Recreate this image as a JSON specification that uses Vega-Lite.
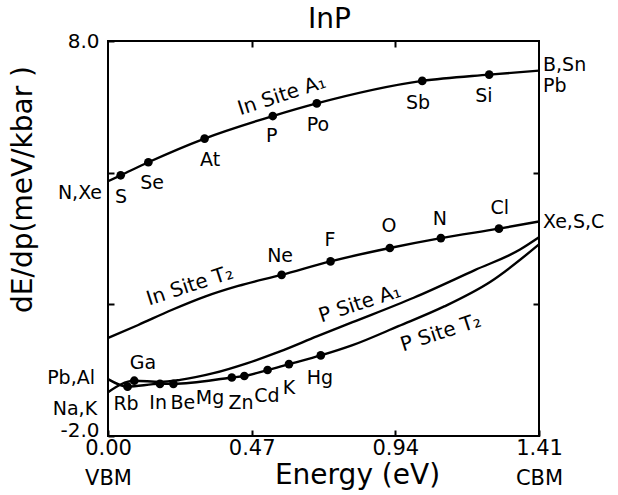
{
  "$schema": "https://vega.github.io/schema/vega-lite/v6.json",
  "width": 431,
  "height": 395,
  "autosize": {"type": "none"},
  "padding": {"left": 108, "top": 41, "right": 79, "bottom": 59},
  "background": "white",
  "config": {
    "view": {"stroke": "black", "strokeWidth": 2},
    "font": "DejaVu Sans",
    "text": {"font": "DejaVu Sans", "color": "black"}
  },
  "title": {"text": "InP", "fontSize": 28, "font": "DejaVu Sans", "fontWeight": "normal", "color": "black", "offset": 8, "anchor": "middle", "dx": 6, "dy": 11},
  "datasets": {
    "curves": [
      {"curve": "In Site A1", "e": 0.0, "v": 4.45, "name": ""},
      {"curve": "In Site A1", "e": 0.0415, "v": 4.60, "name": "S"},
      {"curve": "In Site A1", "e": 0.132, "v": 4.93, "name": "Se"},
      {"curve": "In Site A1", "e": 0.316, "v": 5.53, "name": "At"},
      {"curve": "In Site A1", "e": 0.539, "v": 6.10, "name": "P"},
      {"curve": "In Site A1", "e": 0.683, "v": 6.42, "name": "Po"},
      {"curve": "In Site A1", "e": 1.028, "v": 6.99, "name": "Sb"},
      {"curve": "In Site A1", "e": 1.247, "v": 7.15, "name": "Si"},
      {"curve": "In Site A1", "e": 1.41, "v": 7.25, "name": ""},
      {"curve": "In Site T2", "e": 0.0, "v": 0.48, "name": ""},
      {"curve": "In Site T2", "e": 0.099, "v": 0.81, "name": ""},
      {"curve": "In Site T2", "e": 0.208, "v": 1.19, "name": ""},
      {"curve": "In Site T2", "e": 0.317, "v": 1.53, "name": ""},
      {"curve": "In Site T2", "e": 0.426, "v": 1.80, "name": ""},
      {"curve": "In Site T2", "e": 0.568, "v": 2.08, "name": "Ne"},
      {"curve": "In Site T2", "e": 0.728, "v": 2.42, "name": "F"},
      {"curve": "In Site T2", "e": 0.922, "v": 2.76, "name": "O"},
      {"curve": "In Site T2", "e": 1.089, "v": 3.01, "name": "N"},
      {"curve": "In Site T2", "e": 1.279, "v": 3.25, "name": "Cl"},
      {"curve": "In Site T2", "e": 1.41, "v": 3.43, "name": ""},
      {"curve": "P Site A1", "e": 0.0, "v": -0.89, "name": ""},
      {"curve": "P Site A1", "e": 0.086, "v": -0.60, "name": "Ga"},
      {"curve": "P Site A1", "e": 0.17, "v": -0.63, "name": ""},
      {"curve": "P Site A1", "e": 0.236, "v": -0.58, "name": ""},
      {"curve": "P Site A1", "e": 0.345, "v": -0.41, "name": ""},
      {"curve": "P Site A1", "e": 0.454, "v": -0.16, "name": ""},
      {"curve": "P Site A1", "e": 0.563, "v": 0.14, "name": ""},
      {"curve": "P Site A1", "e": 0.683, "v": 0.52, "name": ""},
      {"curve": "P Site A1", "e": 0.8, "v": 0.88, "name": ""},
      {"curve": "P Site A1", "e": 1.0, "v": 1.50, "name": ""},
      {"curve": "P Site A1", "e": 1.2, "v": 2.20, "name": ""},
      {"curve": "P Site A1", "e": 1.348, "v": 2.72, "name": ""},
      {"curve": "P Site A1", "e": 1.41, "v": 3.03, "name": ""},
      {"curve": "P Site T2", "e": 0.0, "v": -0.56, "name": ""},
      {"curve": "P Site T2", "e": 0.064, "v": -0.75, "name": "Rb"},
      {"curve": "P Site T2", "e": 0.170, "v": -0.68, "name": "In"},
      {"curve": "P Site T2", "e": 0.214, "v": -0.68, "name": "Be"},
      {"curve": "P Site T2", "e": 0.405, "v": -0.52, "name": "Mg"},
      {"curve": "P Site T2", "e": 0.446, "v": -0.48, "name": "Zn"},
      {"curve": "P Site T2", "e": 0.522, "v": -0.33, "name": "Cd"},
      {"curve": "P Site T2", "e": 0.592, "v": -0.18, "name": "K"},
      {"curve": "P Site T2", "e": 0.696, "v": 0.04, "name": "Hg"},
      {"curve": "P Site T2", "e": 0.8, "v": 0.30, "name": ""},
      {"curve": "P Site T2", "e": 0.95, "v": 0.78, "name": ""},
      {"curve": "P Site T2", "e": 1.1, "v": 1.28, "name": ""},
      {"curve": "P Site T2", "e": 1.25, "v": 1.90, "name": ""},
      {"curve": "P Site T2", "e": 1.41, "v": 2.85, "name": ""}
    ],
    "pointLabels": [
      {"text": "S", "e": 0.043, "v": 4.06},
      {"text": "Se", "e": 0.144, "v": 4.41},
      {"text": "At", "e": 0.334, "v": 5.0},
      {"text": "P", "e": 0.536, "v": 5.60},
      {"text": "Po", "e": 0.687, "v": 5.88},
      {"text": "Sb", "e": 1.014, "v": 6.44},
      {"text": "Si", "e": 1.230, "v": 6.62},
      {"text": "Ne", "e": 0.563, "v": 2.56},
      {"text": "F", "e": 0.726, "v": 2.97},
      {"text": "O", "e": 0.919, "v": 3.32},
      {"text": "N", "e": 1.086, "v": 3.50},
      {"text": "Cl", "e": 1.282, "v": 3.78},
      {"text": "Ga", "e": 0.114, "v": -0.15},
      {"text": "Rb", "e": 0.059, "v": -1.19},
      {"text": "In", "e": 0.164, "v": -1.16},
      {"text": "Be", "e": 0.245, "v": -1.16},
      {"text": "Mg", "e": 0.334, "v": -1.04},
      {"text": "Zn", "e": 0.435, "v": -1.16},
      {"text": "Cd", "e": 0.520, "v": -0.99},
      {"text": "K", "e": 0.592, "v": -0.78},
      {"text": "Hg", "e": 0.693, "v": -0.53}
    ],
    "curveLabels": [
      {"text": "In Site A₁", "e": 0.569, "v": 6.62},
      {"text": "In Site T₂", "e": 0.268, "v": 1.80},
      {"text": "P Site A₁", "e": 0.824, "v": 1.35},
      {"text": "P Site T₂", "e": 1.089, "v": 0.61}
    ],
    "rightEdge": [
      {"text": "B,Sn", "e": 1.41, "v": 7.40},
      {"text": "Pb", "e": 1.41, "v": 6.85},
      {"text": "Xe,S,C", "e": 1.41, "v": 3.42}
    ],
    "leftEdge": [
      {"text": "N,Xe", "e": 0.0, "v": 4.16},
      {"text": "Pb,Al", "e": -0.023, "v": -0.53},
      {"text": "Na,K", "e": -0.016, "v": -1.32}
    ]
  },
  "resolve": {"axis": {"x": "independent", "y": "independent"}},
  "layer": [
    {
      "data": {"name": "curves"},
      "mark": {"type": "line", "interpolate": "monotone", "color": "black", "strokeWidth": 2.4},
      "encoding": {
        "x": {
          "field": "e", "type": "quantitative",
          "scale": {"domain": [0, 1.41], "nice": false, "zero": false},
          "axis": {
            "orient": "bottom", "values": [0, 0.47, 0.94, 1.41], "format": ".2f",
            "labelExpr": "datum.value == 0 ? ['0.00', 'VBM'] : datum.value == 1.41 ? ['1.41', 'CBM'] : datum.label",
            "domain": false, "grid": false, "tickSize": -6, "tickWidth": 2, "tickColor": "black",
            "labelFontSize": 21, "labelColor": "black", "labelPadding": 7, "labelLineHeight": 30,
            "labelFlush": false, "labelOverlap": false, "labelFont": "DejaVu Sans",
            "title": "Energy (eV)", "titleFontSize": 28, "titleFontWeight": "normal", "titleColor": "black",
            "titleFont": "DejaVu Sans", "titleX": 249, "titleY": 47, "titleAlign": "center", "titleBaseline": "alphabetic"
          }
        },
        "y": {
          "field": "v", "type": "quantitative",
          "scale": {"domain": [-2, 8], "nice": false, "zero": false},
          "axis": {
            "orient": "left", "values": [-2, 1.3333, 4.6667, 8],
            "labelExpr": "datum.value == 8 ? '8.0' : datum.value == -2 ? '-2.0' : ''",
            "labelBaseline": {"condition": {"test": "datum.value == -2", "value": "alphabetic"}, "value": "middle"},
            "domain": false, "grid": false, "tickSize": -6, "tickWidth": 2, "tickColor": "black",
            "labelFontSize": 20, "labelColor": "black", "labelPadding": 15, "labelFlush": false, "labelOverlap": false,
            "labelFont": "DejaVu Sans",
            "title": "dE/dp(meV/kbar )", "titleFontSize": 28, "titleFontWeight": "normal", "titleColor": "black",
            "titleFont": "DejaVu Sans", "titleX": -85, "titleY": 148, "titleAlign": "center", "titleBaseline": "middle", "titleAngle": 270
          }
        },
        "detail": {"field": "curve"}
      }
    },
    {
      "data": {"name": "curves"},
      "transform": [{"filter": "datum.name != ''"}],
      "mark": {"type": "circle", "size": 75, "color": "black", "opacity": 1},
      "encoding": {
        "x": {
          "field": "e", "type": "quantitative",
          "scale": {"domain": [0, 1.41], "nice": false, "zero": false},
          "axis": {"orient": "top", "values": [0.47, 0.94], "labels": false, "title": null, "domain": false, "grid": false, "tickSize": -6, "tickWidth": 2, "tickColor": "black"}
        },
        "y": {
          "field": "v", "type": "quantitative",
          "scale": {"domain": [-2, 8], "nice": false, "zero": false},
          "axis": {"orient": "right", "values": [1.3333, 4.6667], "labels": false, "title": null, "domain": false, "grid": false, "tickSize": -6, "tickWidth": 2, "tickColor": "black"}
        }
      }
    },
    {
      "data": {"name": "pointLabels"},
      "mark": {"type": "text", "fontSize": 19, "align": "center", "baseline": "middle", "color": "black"},
      "encoding": {
        "x": {"field": "e", "type": "quantitative", "axis": null},
        "y": {"field": "v", "type": "quantitative", "axis": null},
        "text": {"field": "text"}
      }
    },
    {
      "data": {"name": "curveLabels"},
      "mark": {"type": "text", "fontSize": 20, "align": "center", "baseline": "middle", "angle": 342, "color": "black"},
      "encoding": {
        "x": {"field": "e", "type": "quantitative", "axis": null},
        "y": {"field": "v", "type": "quantitative", "axis": null},
        "text": {"field": "text"}
      }
    },
    {
      "data": {"name": "rightEdge"},
      "mark": {"type": "text", "fontSize": 19, "align": "left", "baseline": "middle", "dx": 4, "color": "black", "clip": false},
      "encoding": {
        "x": {"field": "e", "type": "quantitative", "axis": null},
        "y": {"field": "v", "type": "quantitative", "axis": null},
        "text": {"field": "text"}
      }
    },
    {
      "data": {"name": "leftEdge"},
      "mark": {"type": "text", "fontSize": 19, "align": "right", "baseline": "middle", "dx": -6, "color": "black", "clip": false},
      "encoding": {
        "x": {"field": "e", "type": "quantitative", "axis": null},
        "y": {"field": "v", "type": "quantitative", "axis": null},
        "text": {"field": "text"}
      }
    }
  ]
}
